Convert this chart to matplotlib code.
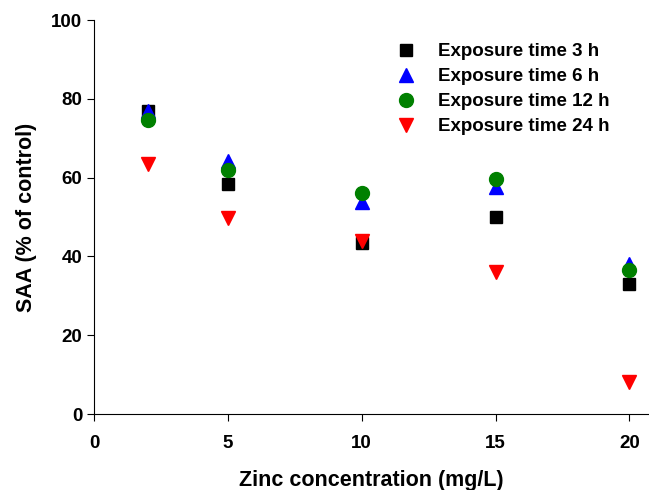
import matplotlib
matplotlib.use("Agg")
import matplotlib.pyplot as plt

plt.rcParams['font.family'] = ['Liberation Sans', 'DejaVu Sans']
plt.rcParams['font.weight'] = 'bold'

zinc = [2, 5, 10, 15, 20]
labels = ["Exposure time 3 h", "Exposure time 6 h", "Exposure time 12 h", "Exposure time 24 h"]
saa_3h = [77.0, 58.3, 43.5, 50.0, 33.0]
saa_6h = [76.8, 64.3, 53.8, 57.7, 38.0]
saa_12h = [74.7, 62.0, 56.0, 59.7, 36.5]
saa_24h = [63.5, 49.8, 44.0, 36.0, 8.2]

fig = plt.figure(figsize=(6.49, 4.9), dpi=100)
ax = fig.add_axes([0.1448, 0.155, 0.854, 0.804])

ax.plot(zinc, saa_3h, 's', color='black', ms=8.5, ls='none', label=labels[0])
ax.plot(zinc, saa_6h, '^', color='blue', ms=9.5, ls='none', label=labels[1])
ax.plot(zinc, saa_12h, 'o', color='green', ms=10, ls='none', label=labels[2])
ax.plot(zinc, saa_24h, 'v', color='red', ms=9.5, ls='none', label=labels[3])

ax.set_xlim(0, 20.7)
ax.set_ylim(0, 100)
ax.set_xticks([0, 5, 10, 15, 20])
ax.set_yticks([0, 20, 40, 60, 80, 100])
ax.spines['top'].set_visible(False)
ax.spines['right'].set_visible(False)
ax.tick_params(direction='out', length=5, labelsize=13.5)
ax.tick_params(axis='x', pad=10)
for t in ax.get_xticklabels() + ax.get_yticklabels():
    t.set_fontweight('bold')

ax.set_xlabel("Zinc concentration (mg/L)", fontsize=15.5, fontweight='bold', labelpad=13)
ax.set_ylabel("SAA (% of control)", fontsize=15.5, fontweight='bold', labelpad=10)

leg = ax.legend(loc='upper left', bbox_to_anchor=(0.53, 0.96), frameon=False,
                prop={'weight': 'bold', 'size': 13.5}, handletextpad=1.1,
                labelspacing=0.42, handlelength=1.2, borderaxespad=0)

fig.savefig("out.png", dpi=100)
